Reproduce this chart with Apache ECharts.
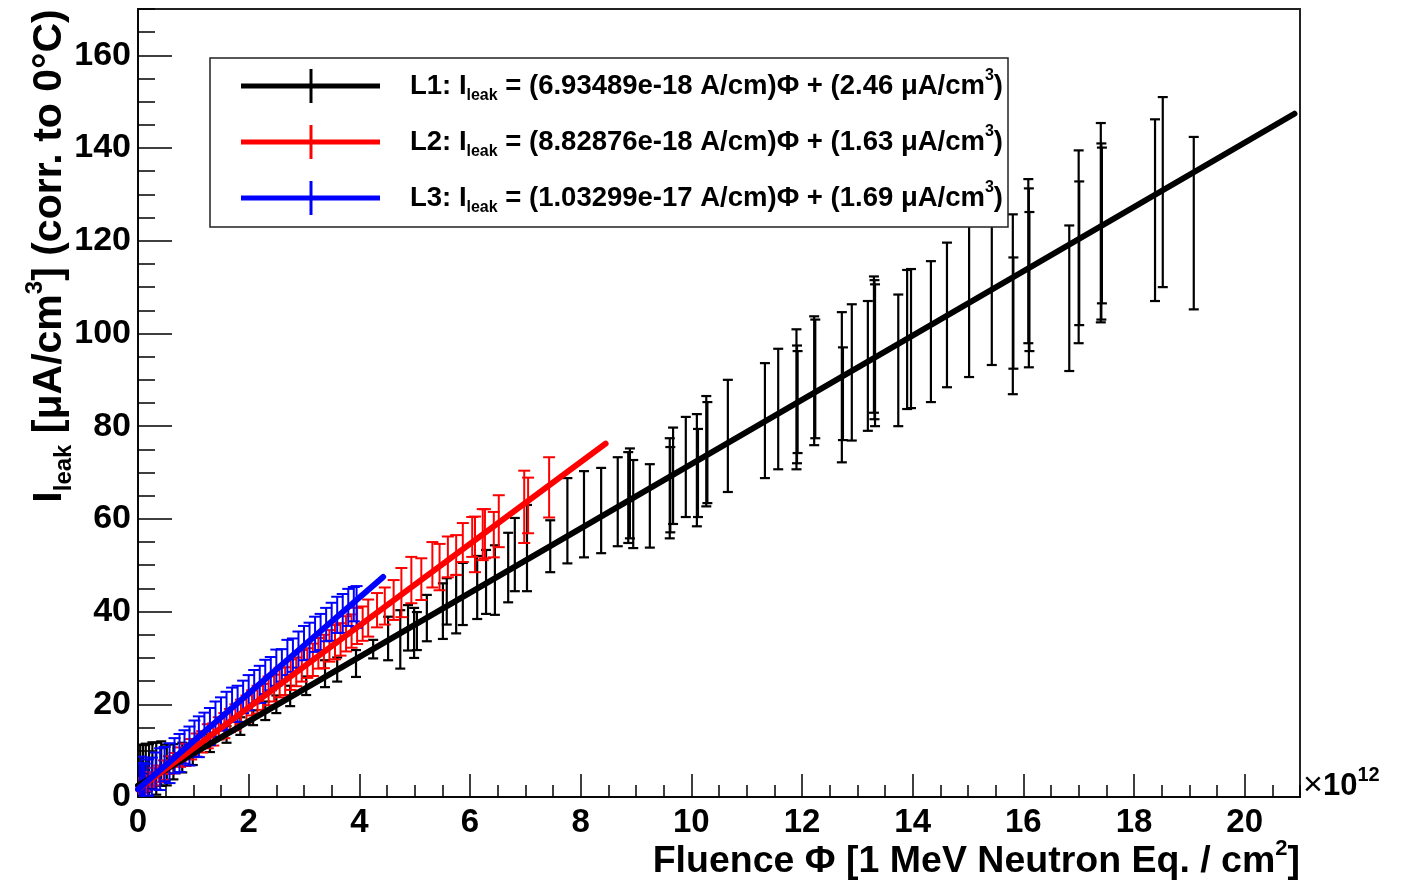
<!DOCTYPE html>
<html><head><meta charset="utf-8">
<script src="https://cdn.jsdelivr.net/npm/echarts@6/dist/echarts.min.js"></script>
<style>html,body{margin:0;padding:0;background:#fff}#c{width:1402px;height:884px}</style>
</head><body><div id="c"></div>
<script>
// ---- data (fluence in 1e12 n/cm^2, current in uA/cm^3) ----
const l1X=[0.04,0.09,0.14,0.2,0.26,0.33,0.42,0.52,0.64,0.8,0.99,1.3,1.6,1.85,2.08,2.3,2.5,2.75,3.04,3.38,3.6,3.94,4.25,4.52,4.74,4.88,4.99,5.04,5.22,5.51,5.58,5.75,5.87,6.13,6.29,6.45,6.69,6.81,7.03,7.45,7.76,8.06,8.37,8.67,8.86,8.89,8.95,9.25,9.61,9.62,9.67,9.9,10.1,10.12,10.27,10.29,10.66,11.33,11.57,11.9,11.91,11.92,12.22,12.24,12.72,12.74,12.9,13.19,13.3,13.31,13.32,13.74,13.9,13.97,14.33,14.62,15.02,15.43,15.81,15.82,16.09,16.1,16.11,16.83,17.0,17.01,17.4,17.41,17.42,18.38,18.52,19.08];
const l1Y=[5.8,5.2,6.3,5.6,6.8,6.1,7.2,6.9,7.6,8.5,9.7,11.6,13.5,15.3,17.1,18.6,20.0,21.8,24.0,26.6,27.5,28.8,31.9,34.2,34.0,36.5,35.4,35.8,38.6,40.1,42.2,41.6,43.8,45.2,46.4,46.8,49.5,52.3,53.7,54.1,59.6,61.0,61.8,63.7,64.6,65.5,63.2,62.8,66.6,66.3,69.3,71.2,70.5,69.9,74.6,74.3,77.9,81.2,83.7,85.8,84.7,85.2,89.8,90.2,88.4,87.0,91.6,93.0,97.6,96.5,95.3,94.2,98.7,98.9,100.4,104.0,108.0,111.0,106.3,104.4,115.6,112.0,111.2,107.6,118.7,117.3,123.9,122.0,123.3,126.6,130.5,123.8];
const l1Err=[5.5,6.0,5.2,5.8,5.0,5.6,4.8,4.4,3.8,3.2,2.8,1.9,1.8,1.9,1.6,2.0,1.9,2.2,2.0,2.9,2.6,2.9,2.0,4.7,6.3,4.9,5.4,4.1,5.0,6.0,5.0,6.3,6.7,6.8,6.9,7.5,7.5,7.9,9.3,5.6,9.2,9.3,9.2,9.6,9.8,9.7,9.5,9.0,10.8,9.2,10.4,10.8,12.1,9.5,11.9,10.9,12.1,12.4,13.0,15.1,12.7,11.0,13.9,12.8,16.2,10.0,14.7,14.0,14.7,15.0,15.3,14.2,15.0,15.0,15.2,15.6,17.4,17.8,19.4,12.0,17.7,19.3,15.0,15.7,20.8,15.5,21.5,19.0,16.8,19.6,20.5,18.6];

const l2X=[0.03,0.07,0.11,0.16,0.22,0.30,0.38,0.47,0.56,0.66,0.76,0.86,0.96,1.06,1.16,1.26,1.36,1.46,1.56,1.66,1.76,1.86,1.96,2.06,2.16,2.26,2.36,2.46,2.56,2.66,2.76,2.86,2.96,3.06,3.16,3.26,3.36,3.46,3.56,3.66,3.76,3.86,3.96,4.06,4.16,4.32,4.46,4.62,4.76,4.94,5.12,5.32,5.45,5.60,5.75,5.87,6.04,6.09,6.23,6.27,6.43,6.52,6.98,7.05,7.43];
const l2Y=[1.9,2.3,2.8,3.0,3.8,4.4,5.0,5.8,6.9,7.3,8.6,9.1,10.3,11.2,11.9,13.1,13.5,14.8,15.4,16.5,17.2,18.4,19.0,20.3,21.0,21.6,22.9,23.5,24.7,25.0,26.4,27.0,28.3,28.9,29.6,31.0,31.4,32.6,33.4,34.0,35.2,35.8,36.9,37.4,38.6,40.3,41.2,42.5,44.1,46.8,47.0,50.1,49.6,51.8,52.2,54.9,56.1,54.5,56.6,56.8,56.6,59.5,62.6,62.9,66.8];
const l2Err=[1.2,1.5,1.3,1.7,1.6,1.9,1.8,2.1,1.9,2.2,2.1,2.4,2.2,2.5,2.3,2.6,2.4,2.4,2.7,2.5,2.8,2.6,2.9,2.7,3.0,2.8,3.1,2.9,3.2,3.0,3.3,3.1,3.4,3.2,3.5,3.3,3.6,3.4,3.7,3.5,3.8,3.6,3.9,3.7,4.0,3.7,4.0,4.3,5.3,5.0,4.5,4.9,5.0,4.4,4.3,4.2,4.3,6.0,5.5,5.3,4.9,5.6,7.8,6.0,6.5];

const l3X=[0.03,0.06,0.09,0.12,0.18,0.25,0.32,0.40,0.48,0.57,0.66,0.75,0.84,0.93,1.02,1.10,1.20,1.30,1.40,1.50,1.60,1.70,1.80,1.90,2.00,2.10,2.20,2.30,2.40,2.50,2.60,2.70,2.80,2.90,3.00,3.10,3.20,3.30,3.40,3.50,3.60,3.70,3.80,3.90,3.95];
const l3Y=[3.5,4.2,3.4,2.6,4.2,4.1,5.6,6.0,7.1,7.3,8.9,9.5,10.8,11.0,12.6,13.0,14.5,15.2,16.8,17.9,18.6,19.9,20.1,21.6,22.5,23.8,24.3,25.9,26.6,27.9,28.4,30.1,30.6,31.8,33.2,33.6,35.1,35.6,37.2,37.8,39.3,39.6,40.9,41.6,41.0];
const l3Err=[3.8,4.5,3.8,4.6,3.9,4.4,4.0,4.5,3.7,4.3,3.8,4.1,3.6,4.2,3.9,4.4,3.7,4.0,3.8,3.6,4.1,3.7,3.9,3.5,3.8,3.6,4.0,3.7,3.6,3.9,3.5,3.8,3.6,3.9,3.7,4.0,3.8,3.9,3.6,4.1,3.9,4.2,4.0,3.7,4.5];

// fit results as printed in the legend
const fitNames=['L1','L2','L3'];
const fitSlopeText=['6.93489e-18','8.82876e-18','1.03299e-17'];
const fitInterceptText=['2.46','1.63','1.69'];
const fitXMax=[20.9,8.45,4.43];
const seriesColors=['#000000','#ff0000','#0000ff'];

// axes
const xMin=0,xMax=21,xStep=2,xMinorStep=0.5;
const yMin=0,yMax=170,yStep=20,yMinorStep=5;

const FONT='"Liberation Sans", Arial, Helvetica, sans-serif';
const chart=echarts.init(document.getElementById('c'),null,{renderer:'canvas'});

function zip(xs,ys,es){return xs.map((x,i)=>[x,ys[i],es[i]]);}
function errSeries(data,color,lw,cap){
  return {type:'custom',data:data,clip:true,
    dimensions:['x','y','e'],encode:{x:0,y:1},
    renderItem:function(params,api){
      const x=api.value(0),y=api.value(1),e=api.value(2);
      const t=api.coord([x,y+e]),b=api.coord([x,y-e]);
      const st={stroke:color,lineWidth:lw};
      return {type:'group',children:[
        {type:'line',shape:{x1:t[0],y1:t[1],x2:b[0],y2:b[1]},style:st},
        {type:'line',shape:{x1:t[0]-cap,y1:t[1],x2:t[0]+cap,y2:t[1]},style:st},
        {type:'line',shape:{x1:b[0]-cap,y1:b[1],x2:b[0]+cap,y2:b[1]},style:st}
      ]};
    }};
}
function fitSeries(i){
  const a=parseFloat(fitSlopeText[i])*1e18, b=parseFloat(fitInterceptText[i]);
  return {type:'line',symbol:'none',silent:true,
    data:[[0,b],[fitXMax[i],a*fitXMax[i]+b]],
    lineStyle:{color:seriesColors[i],width:6,cap:'round'}};
}
const errData=[zip(l1X,l1Y,l1Err),zip(l2X,l2Y,l2Err),zip(l3X,l3Y,l3Err)];
const series=[];
for(let i=0;i<3;i++){
  series.push(errSeries(errData[i],seriesColors[i],i===0?2.2:2,i===0?5:6));
  series.push(fitSeries(i));
}

// legend (graphic)
const legRows=[86,142,198];
const legGraphics=[{type:'rect',z:100,shape:{x:210,y:58,width:798,height:169},
  style:{fill:'#fff',stroke:'#222',lineWidth:1.5}}];
for(let i=0;i<3;i++){
  const y=legRows[i];
  legGraphics.push({type:'line',z:101,shape:{x1:241,y1:y,x2:380,y2:y},style:{stroke:seriesColors[i],lineWidth:5}});
  legGraphics.push({type:'line',z:101,shape:{x1:311,y1:y-17,x2:311,y2:y+17},style:{stroke:seriesColors[i],lineWidth:3}});
  legGraphics.push({type:'text',z:101,x:410,y:y,style:{
    text:'{m|'+fitNames[i]+': I}{s|leak}{m| = ('+fitSlopeText[i]+' A/cm)Φ + ('+fitInterceptText[i]+' μA/cm}{p|3}{m|)}',
    align:'left',verticalAlign:'middle',
    rich:{
      m:{fontSize:27.5,fontWeight:'bold',fontFamily:FONT,fill:'#000',lineHeight:36},
      s:{fontSize:16,fontWeight:'bold',fontFamily:FONT,fill:'#000',lineHeight:14,verticalAlign:'bottom'},
      p:{fontSize:16,fontWeight:'bold',fontFamily:FONT,fill:'#000',lineHeight:14,verticalAlign:'top'}
    }}});
}

const titleRich=(fs,sub)=>({
  m:{fontSize:fs,fontWeight:'bold',fontFamily:FONT,fill:'#000',lineHeight:fs*1.3},
  s:{fontSize:sub,fontWeight:'bold',fontFamily:FONT,fill:'#000',lineHeight:sub,verticalAlign:'bottom'},
  p:{fontSize:sub,fontWeight:'bold',fontFamily:FONT,fill:'#000',lineHeight:sub,verticalAlign:'top'},
  t:{fontSize:fs*1.1,fontWeight:'normal',fontFamily:FONT,fill:'#000',lineHeight:fs*1.3}
});

const graphics=legGraphics.concat([
  {type:'text',z:100,x:50,y:256,rotation:Math.PI/2,style:{
    text:'{m|I}{s|leak}{m| [μA/cm}{p|3}{m|] (corr. to 0°C)}',
    align:'center',verticalAlign:'middle',rich:titleRich(41,24)}},
  {type:'text',z:100,x:1300,y:862,style:{
    text:'{m|Fluence Φ [1 MeV Neutron Eq. / cm}{p|2}{m|]}',
    align:'right',verticalAlign:'middle',rich:titleRich(37.5,22)}},
  {type:'text',z:100,x:1303,y:786,style:{
    text:'{t|×}{m|10}{p|12}',
    align:'left',verticalAlign:'middle',rich:titleRich(31,20)}}
]);

const axLine={color:'#000',width:1.5};
const option={
  animation:false,
  backgroundColor:'#fff',
  grid:{left:138,top:9,right:102,bottom:87,show:true,borderColor:'#222',borderWidth:2,backgroundColor:'transparent'},
  xAxis:[
    {type:'value',min:xMin,max:xMax,interval:xStep,position:'bottom',
     axisLine:{show:true,onZero:false,lineStyle:axLine},
     axisTick:{inside:true,length:23,lineStyle:axLine},
     axisLabel:{showMaxLabel:false,fontSize:33,fontWeight:'bold',fontFamily:FONT,color:'#000',margin:9},
     splitLine:{show:false}},
    {type:'value',min:xMin,max:xMax,interval:xMinorStep,position:'bottom',
     axisLine:{show:false},axisTick:{inside:true,length:12,lineStyle:axLine},
     axisLabel:{show:false},splitLine:{show:false}}
  ],
  yAxis:[
    {type:'value',min:yMin,max:yMax,interval:yStep,position:'left',
     axisLine:{show:true,onZero:false,lineStyle:axLine},
     axisTick:{inside:true,length:34,lineStyle:axLine},
     axisLabel:{showMaxLabel:false,fontSize:34,fontWeight:'bold',fontFamily:FONT,color:'#000',margin:7},
     splitLine:{show:false}},
    {type:'value',min:yMin,max:yMax,interval:yMinorStep,position:'left',
     axisLine:{show:false},axisTick:{inside:true,length:17,lineStyle:axLine},
     axisLabel:{show:false},splitLine:{show:false}}
  ],
  series:series,
  graphic:graphics
};
chart.setOption(option);
</script></body></html>
